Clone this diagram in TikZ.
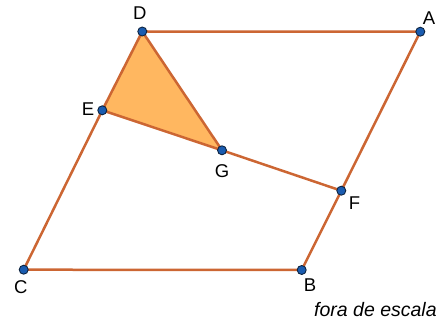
\documentclass[tikz,border=0pt]{standalone}
\usepackage{fontspec}
\setmainfont{Liberation Sans}

\begin{document}
\begin{tikzpicture}[x=1pt,y=-1pt]

% Colori
\definecolor{colLato}{HTML}{CC6633}
\definecolor{colTri}{HTML}{FFB760}
\definecolor{colPunto}{HTML}{1A5CB0}
\definecolor{colBordo}{HTML}{0E2440}

\tikzset{
  lato/.style={draw=colLato, line width=2.5pt, line cap=round, line join=round},
  punto/.style={circle, fill=colPunto, draw=colBordo, line width=0.9pt, inner sep=0pt, minimum size=9pt},
  etichetta/.style={font=\fontsize{18.5}{21}\selectfont, inner sep=0pt}
}

% Riquadro
\useasboundingbox (0,0) rectangle (440,320);

% Vertici
\coordinate (D) at (142.3,31.5);
\coordinate (A) at (420.3,31.7);
\coordinate (E) at (102.3,110.3);
\coordinate (G) at (222,150.3);
\coordinate (F) at (341.3,190.7);
\coordinate (C) at (23.7,269.7);
\coordinate (B) at (301.7,270);

% Triangolo DEG
\fill[colTri] (D) -- (E) -- (G) -- cycle;

% Lati
\draw[lato] (D) -- (A) -- (F) -- (B) -- (C) -- (E) -- cycle;
\draw[lato] (E) -- (G) -- (F);
\draw[lato] (D) -- (G);

% Punti
\foreach \p in {D,A,E,G,F,C,B}
  \node[punto] (p\p) at (\p) {};

% Etichette
\node[etichetta] (lD) at (139.7,13) {D};
\node[etichetta] (lA) at (429,18) {A};
\node[etichetta] (lE) at (88,109) {E};
\node[etichetta] (lG) at (222,171.5) {G};
\node[etichetta] (lF) at (354.5,203) {F};
\node[etichetta] (lC) at (20.7,287.5) {C};
\node[etichetta] (lB) at (310,285) {B};

% Nota
\node[anchor=base west, inner sep=0pt, font=\fontsize{19.5}{22}\selectfont\itshape] (nota) at (314,316.7) {fora de escala};

\end{tikzpicture}
\end{document}
